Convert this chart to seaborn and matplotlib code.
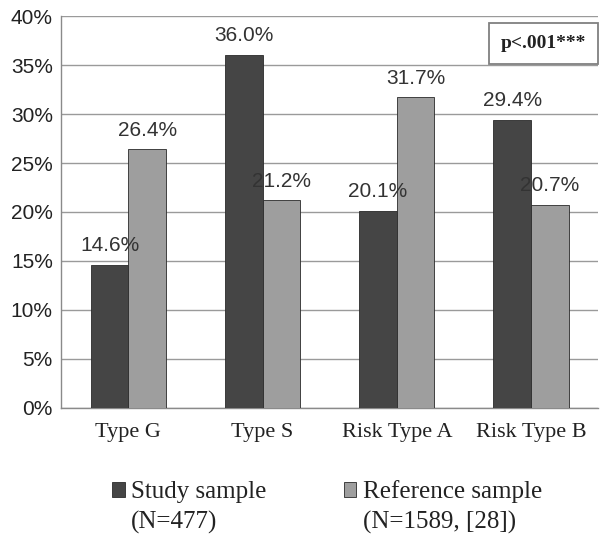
import matplotlib
matplotlib.use("Agg")
import matplotlib.pyplot as plt
import seaborn as sns
import pandas as pd
from matplotlib.ticker import FuncFormatter

# data
categories = ["Type G", "Type S", "Risk Type A", "Risk Type B"]
study_pct = [14.6, 36.0, 20.1, 29.4]
reference_pct = [26.4, 21.2, 31.7, 20.7]
series = ["Study sample", "Reference sample"]
series_n = ["(N=477)", "(N=1589, [28])"]
colors = ["#454545", "#9e9e9e"]
y_ticks = [0, 5, 10, 15, 20, 25, 30, 35, 40]

df = pd.DataFrame({
    "category": categories * 2,
    "value": study_pct + reference_pct,
    "sample": [series[0]] * len(categories) + [series[1]] * len(categories),
})

sns.set_style("white")
fig = plt.figure(figsize=(6.0, 5.34), dpi=100)
ax = fig.add_axes([0.102, 0.236, 0.895, 0.734])

sns.barplot(data=df, x="category", y="value", hue="sample", order=categories,
            hue_order=series, palette=colors, width=0.56, edgecolor="#2a2a2a",
            linewidth=0.6, saturation=1, ax=ax, zorder=3)

for cont in ax.containers:
    ax.bar_label(cont, fmt="%.1f%%", padding=7, fontsize=15,
                 family="Liberation Sans", color="#333333")

ax.set_ylim(0, 40)
ax.set_yticks(y_ticks)
ax.yaxis.set_major_formatter(FuncFormatter(lambda v, _: f"{v:.0f}%"))
ax.grid(axis="y", color="#9a9a9a", linewidth=1.0, zorder=0)
ax.set_axisbelow(True)
ax.set_xlabel("")
ax.set_ylabel("")

for s in ["top", "right"]:
    ax.spines[s].set_visible(False)
for s in ["left", "bottom"]:
    ax.spines[s].set_color("#8a8a8a")
    ax.spines[s].set_linewidth(1.0)

# category boundary ticks like the source
ax.set_xticks([i + 0.5 for i in range(-1, len(categories))], minor=True)
ax.tick_params(axis="x", which="minor", length=5, color="#8a8a8a", width=1)
ax.tick_params(axis="x", which="major", length=0, pad=11)
ax.tick_params(axis="y", length=5, color="#8a8a8a", width=1, pad=1)
for lbl in ax.get_xticklabels():
    lbl.set_family("Liberation Serif")
    lbl.set_fontsize(16)
    lbl.set_color("#222222")
for lbl in ax.get_yticklabels():
    lbl.set_family("Liberation Sans")
    lbl.set_fontsize(15)
    lbl.set_color("#222222")
ax.set_xlim(-0.5, len(categories) - 0.5)

# legend under the plot, marker level with the first line
handles, labels = ax.get_legend_handles_labels()
ax.legend_.remove()
leg = fig.legend(handles, labels, loc="center left", bbox_to_anchor=(0.187, 0.079),
                 ncol=2, frameon=False, handlelength=0.5, handleheight=0.5,
                 handletextpad=0.25, columnspacing=3.1, borderpad=0, borderaxespad=0,
                 prop={"family": "Liberation Serif", "size": 18}, labelcolor="#222222")

fig.canvas.draw()
renderer = fig.canvas.get_renderer()
for txt, extra in zip(leg.get_texts(), series_n):
    x0 = txt.get_window_extent(renderer).x0 / fig.bbox.width
    fig.text(x0, 0.022, extra, ha="left", va="center", family="Liberation Serif",
             fontsize=18, color="#222222")

ax.text(0.898, 0.93, "p<.001***", transform=ax.transAxes, ha="center", va="center",
        family="Liberation Serif", fontweight="bold", fontsize=14, color="#222222",
        bbox=dict(boxstyle="square,pad=0.6", fc="white", ec="#808080", lw=1.3),
        zorder=5)

fig.savefig("out.png", dpi=100)
